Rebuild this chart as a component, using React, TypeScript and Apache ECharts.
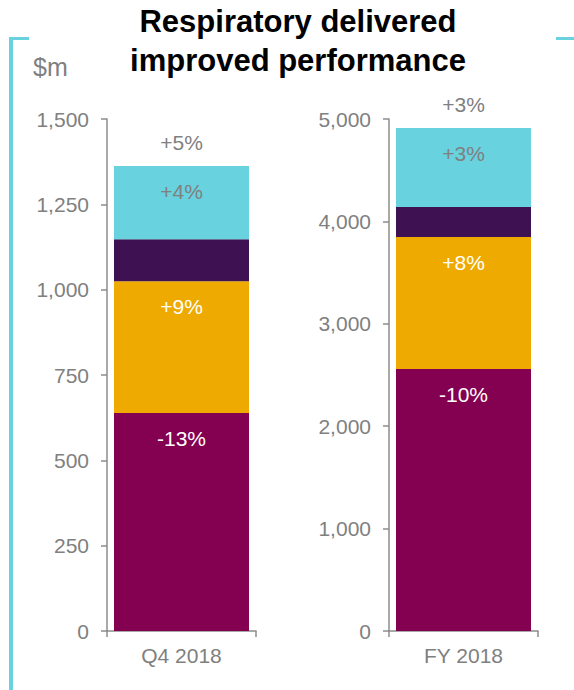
import React, { useEffect, useRef } from "react";
import * as echarts from "echarts";

const categories = ["Q4 2018", "FY 2018"];
const segMaroon = [639, 2559];
const segOrange = [386, 1289];
const segPurple = [123, 293];
const segCyan = [214, 771];
const changeMaroon = ["-13%", "-10%"];
const changeOrange = ["+9%", "+8%"];
const changeCyan = ["+4%", "+3%"];
const changeTotal = ["+5%", "+3%"];
const axisMax = [1500, 5000];
const axisInterval = [250, 1000];

const FONT = "'Liberation Sans', Arial, sans-serif";
const GRAY = "#808080";
const AXIS = "#8c8c8c";
const CYAN = "#68D2DF";

export default function App() {
  const ref = useRef<HTMLDivElement>(null);
  useEffect(() => {
    if (!ref.current) return;
    const chart = echarts.init(ref.current, null, { renderer: "svg" });
    const grids = [
      { left: 107, top: 119, width: 149, height: 512 },
      { left: 389, top: 119, width: 149, height: 512 },
    ];
    const xAxes = categories.map((c, i) => ({
      type: "category",
      gridIndex: i,
      data: [c],
      axisLine: { lineStyle: { color: AXIS, width: 1.5 } },
      axisTick: { show: true, length: 6, lineStyle: { color: AXIS, width: 1.5 } },
      axisLabel: { color: GRAY, fontSize: 21, fontFamily: FONT, margin: 14 },
    }));
    const yAxes = categories.map((c, i) => ({
      type: "value",
      gridIndex: i,
      min: 0,
      max: axisMax[i],
      interval: axisInterval[i],
      splitLine: { show: false },
      axisLine: { show: true, lineStyle: { color: AXIS, width: 1.5 } },
      axisTick: { show: true, length: 6, lineStyle: { color: AXIS, width: 1.5 } },
      axisLabel: {
        color: GRAY,
        fontSize: 21,
        fontFamily: FONT,
        margin: 18,
        formatter: (v: number) => v.toLocaleString("en-US"),
      },
    }));
    const series: any[] = [];
    categories.forEach((c, i) => {
      const base = {
        type: "bar",
        xAxisIndex: i,
        yAxisIndex: i,
        stack: "s" + i,
        barWidth: 135,
      };
      const lab = (text: string, color: string) => ({
        show: true,
        position: "insideTop",
        distance: 15,
        color,
        fontSize: 21,
        fontFamily: FONT,
        formatter: () => text,
      });
      series.push({ ...base, name: "A", data: [segMaroon[i]], itemStyle: { color: "#840050" }, label: lab(changeMaroon[i], "#ffffff") });
      series.push({ ...base, name: "B", data: [segOrange[i]], itemStyle: { color: "#EEAA00" }, label: lab(changeOrange[i], "#ffffff") });
      series.push({ ...base, name: "C", data: [segPurple[i]], itemStyle: { color: "#3D1152" } });
      series.push({ ...base, name: "D", data: [segCyan[i]], itemStyle: { color: CYAN }, label: lab(changeCyan[i], GRAY) });
      series.push({
        ...base,
        name: "Total",
        data: [0],
        itemStyle: { color: "transparent" },
        label: {
          show: true,
          position: "top",
          distance: 13,
          color: GRAY,
          fontSize: 21,
          fontFamily: FONT,
          formatter: () => changeTotal[i],
        },
      });
    });
    chart.setOption({
      animation: false,
      backgroundColor: "#ffffff",
      title: {
        text: "Respiratory delivered\nimproved performance",
        left: 293,
        textAlign: "center",
        top: -3,
        textStyle: {
          fontFamily: FONT,
          fontWeight: "bold",
          fontSize: 31,
          lineHeight: 39,
          color: "#000000",
        },
      },
      graphic: [
        { type: "line", shape: { x1: 11, y1: 37, x2: 11, y2: 690 }, style: { stroke: CYAN, lineWidth: 4 } },
        { type: "line", shape: { x1: 9, y1: 38.5, x2: 29, y2: 38.5 }, style: { stroke: CYAN, lineWidth: 3 } },
        { type: "line", shape: { x1: 556, y1: 38.5, x2: 574, y2: 38.5 }, style: { stroke: CYAN, lineWidth: 3 } },
        { type: "text", left: 33, top: 54, style: { text: "$m", fill: GRAY, font: `25px ${FONT}` } },
      ],
      grid: grids,
      xAxis: xAxes,
      yAxis: yAxes,
      series,
    });
    return () => chart.dispose();
  }, []);
  return (
    <div
      ref={ref}
      style={{ position: "absolute", left: 0, top: 0, width: 574, height: 690, background: "#fff" }}
    />
  );
}
